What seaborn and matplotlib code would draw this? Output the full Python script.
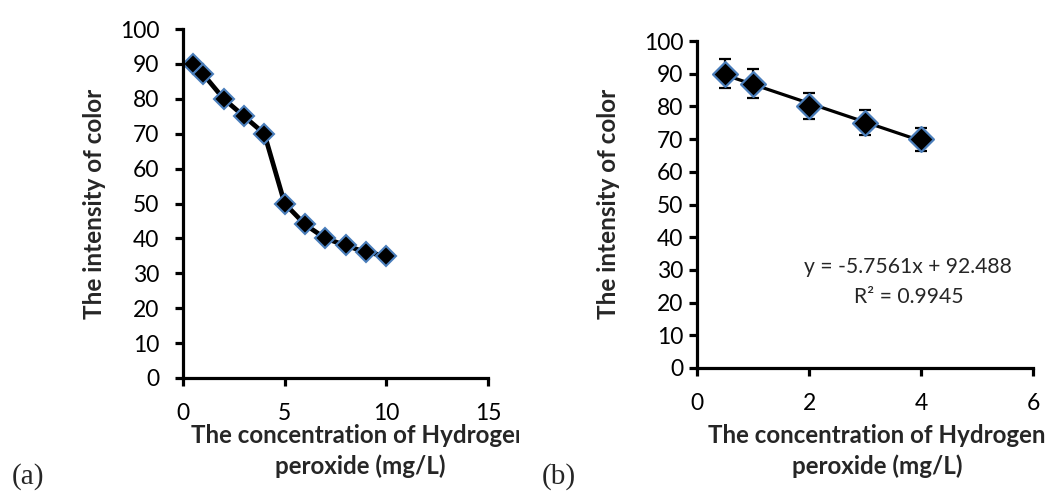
import numpy as np
import pandas as pd
import matplotlib
matplotlib.use("Agg")
import matplotlib.pyplot as plt
import seaborn as sns
from matplotlib.transforms import Bbox, TransformedBbox

# ---- data ----
conc_a = [0.5, 1, 2, 3, 4, 5, 6, 7, 8, 9, 10]
intensity_a = [90, 87, 80, 75, 70, 50, 44, 40, 38, 36, 35]

conc_b = [0.5, 1, 2, 3, 4]
intensity_b = [90, 87, 80, 75, 70]
err_b = [4.5, 4.35, 4.0, 3.75, 3.5]

yticks = [0, 10, 20, 30, 40, 50, 60, 70, 80, 90, 100]
xticks_a = [0, 5, 10, 15]
xticks_b = [0, 2, 4, 6]

ylabel = "The intensity of color"
xlabel = "The concentration of Hydrogen\nperoxide (mg/L)"
eq_text = "y = -5.7561x + 92.488"
r2_text = "R\u00b2 = 0.9945"

sns.set_style("ticks")
plt.rcParams["font.family"] = ["Lato", "DejaVu Sans"]

W, H = 1052, 491
fig = plt.figure(figsize=(W / 100, H / 100), dpi=100)

def px_rect(l, t, r, b):
    return [l / W, 1 - b / H, (r - l) / W, (b - t) / H]

ax_a = fig.add_axes(px_rect(183, 29, 488, 378))
ax_b = fig.add_axes(px_rect(697, 41, 1033, 368))

edge = "#4a7ebb"

df_a = pd.DataFrame({"x": conc_a, "y": intensity_a})
sns.lineplot(data=df_a, x="x", y="y", ax=ax_a, color="black", linewidth=3.4,
             marker="D", markersize=10.5, markerfacecolor="black",
             markeredgecolor=edge, markeredgewidth=1.5)

df_b = pd.DataFrame({"x": conc_b, "y": intensity_b, "e": err_b})
ax_b.errorbar(df_b["x"], df_b["y"], yerr=df_b["e"], fmt="none", ecolor="black",
              elinewidth=1.6, capsize=4.5, capthick=1.6, zorder=2)
sns.regplot(data=df_b, x="x", y="y", ax=ax_b, scatter=False, ci=None,
            line_kws=dict(color="black", linewidth=2.3, zorder=3))
sns.scatterplot(data=df_b, x="x", y="y", ax=ax_b, marker="D", s=160,
                color="black", edgecolor=edge, linewidth=1.6, zorder=4)

for ax, xt, ypad in ((ax_a, xticks_a, 11), (ax_b, xticks_b, 4)):
    ax.set_xlim(xt[0], xt[-1])
    ax.set_ylim(0, 100)
    ax.set_xticks(xt)
    ax.set_yticks(yticks)
    ax.set_xlabel("")
    ax.set_ylabel("")
    sns.despine(ax=ax)
    for s in ("left", "bottom"):
        ax.spines[s].set_linewidth(2.3)
        ax.spines[s].set_color("black")
    ax.tick_params(axis="both", direction="out", length=6, width=2.3,
                   colors="black", labelsize=16.5)
    ax.tick_params(axis="y", pad=ypad)
    ax.tick_params(axis="x", pad=12)
    for lab in ax.get_xticklabels() + ax.get_yticklabels():
        lab.set_color("black")
    for sp in ax.spines.values():
        sp.set_clip_on(False)

def ftext(x, y, s, **kw):
    return fig.text(x / W, 1 - y / H, s, **kw)

# y labels
ftext(95, 204, ylabel, rotation=90, ha="center", va="center",
      fontsize=17.5, fontweight="bold")
ftext(609, 204, ylabel, rotation=90, ha="center", va="center",
      fontsize=17.5, fontweight="bold")

# x labels
t_a = ftext(360, 451, xlabel, ha="center", va="center", fontsize=17.4,
            fontweight="bold", linespacing=1.35, multialignment="center")
t_a.set_clip_box(TransformedBbox(Bbox([[0, 0], [519 / W, 1]]), fig.transFigure))
t_a.set_clip_on(True)
ftext(877, 451, xlabel, ha="center", va="center", fontsize=17.4,
      fontweight="bold", linespacing=1.35, multialignment="center")

# panel letters
ftext(12, 477, "(a)", ha="left", va="center", fontsize=21,
      family=["Liberation Serif", "DejaVu Serif"])
ftext(542, 477, "(b)", ha="left", va="center", fontsize=21,
      family=["Liberation Serif", "DejaVu Serif"])

# equation
ftext(908, 267, eq_text, ha="center", va="center", fontsize=15.2)
ftext(909, 297, r2_text, ha="center", va="center", fontsize=15.2)

fig.savefig("out.png", dpi=100, facecolor="white")
